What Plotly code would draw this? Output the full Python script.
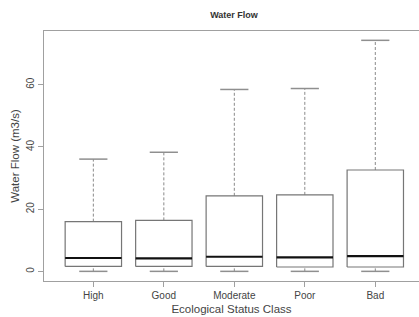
import plotly.graph_objects as go

categories = ["High", "Good", "Moderate", "Poor", "Bad"]
lower_whisker = [0.0, 0.0, 0.0, 0.0, 0.0]
q1 = [1.6, 1.6, 1.6, 1.4, 1.4]
median = [4.3, 4.2, 4.7, 4.5, 4.9]
q3 = [16.0, 16.4, 24.3, 24.6, 32.6]
upper_whisker = [36.1, 38.3, 58.5, 58.8, 74.3]
y_ticks = [0, 20, 40, 60]

BOX_HW = 0.4
CAP_HW = 0.2

pos = list(range(1, len(categories) + 1))

def seg_trace(xs, ys, color, width, dash="solid"):
    return go.Scatter(x=xs, y=ys, mode="lines", hoverinfo="skip", showlegend=False,
                      line=dict(color=color, width=width, dash=dash))

fig = go.Figure()

# whiskers (dashed)
wx, wy = [], []
for p, lo, a, b, hi in zip(pos, lower_whisker, q1, q3, upper_whisker):
    wx += [p, p, None, p, p, None]
    wy += [b, hi, None, lo, a, None]
fig.add_trace(seg_trace(wx, wy, "#8a8a8a", 1, "3px,2px"))

# caps
cx, cy = [], []
for p, lo, hi in zip(pos, lower_whisker, upper_whisker):
    cx += [p - CAP_HW, p + CAP_HW, None, p - CAP_HW, p + CAP_HW, None]
    cy += [hi, hi, None, lo, lo, None]
fig.add_trace(seg_trace(cx, cy, "#8f8f8f", 1.5))

# boxes
bx, by = [], []
for p, a, b in zip(pos, q1, q3):
    bx += [p - BOX_HW, p + BOX_HW, p + BOX_HW, p - BOX_HW, p - BOX_HW, None]
    by += [a, a, b, b, a, None]
fig.add_trace(seg_trace(bx, by, "#767676", 1.2))

# medians
mx, my = [], []
for p, m in zip(pos, median):
    mx += [p - BOX_HW, p + BOX_HW, None]
    my += [m, m, None]
fig.add_trace(seg_trace(mx, my, "#111111", 2.2))

font_family = "Liberation Sans, Arial, Helvetica, sans-serif"

fig.update_layout(
    width=419, height=317,
    margin=dict(l=44, r=0, t=31, b=36),
    paper_bgcolor="white", plot_bgcolor="white",
    font=dict(family=font_family, color="#444444", size=10),
    title=dict(text="<b>Water Flow</b>", x=234 / 419, xanchor="center",
               y=1 - 15 / 317, yanchor="middle",
               font=dict(size=9, color="#333333", family=font_family)),
    xaxis=dict(
        range=[0.3, 5.62], tickmode="array", tickvals=pos, ticktext=categories,
        showgrid=False, zeroline=False,
        showline=True, mirror=True, linecolor="#a0a0a0", linewidth=1,
        ticks="outside", ticklen=5, tickcolor="#a0a0a0",
        tickfont=dict(size=10, color="#444444"),
        title=dict(text="Ecological Status Class", font=dict(size=11.5, color="#444444"), standoff=4),
    ),
    yaxis=dict(
        range=[-3.1, 77.3], tickmode="array", tickvals=y_ticks,
        ticktext=[str(v) for v in y_ticks], tickangle=-90,
        showgrid=False, zeroline=False,
        showline=True, mirror=False, linecolor="#a0a0a0", linewidth=1,
        ticks="outside", ticklen=5, tickcolor="#a0a0a0",
        tickfont=dict(size=10, color="#444444"),
        title=dict(text="Water Flow (m3/s)", font=dict(size=11.5, color="#444444"), standoff=2),
    ),
)

fig.write_html("out.html", config={"displayModeBar": False},
               post_script="document.body.style.margin='0';")
